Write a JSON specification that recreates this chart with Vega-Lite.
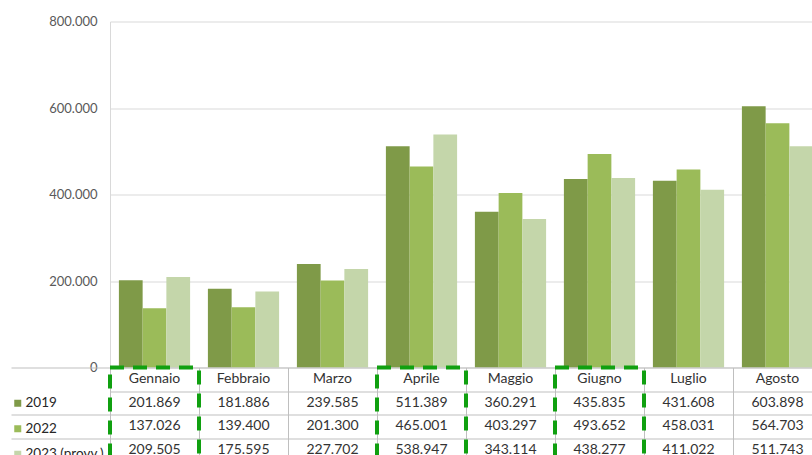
{
  "$schema": "https://vega.github.io/schema/vega-lite/v6.json",
  "padding": {"left": 10, "top": 15.5, "right": 0, "bottom": 0},
  "bounds": "flush",
  "spacing": 0,
  "config": {
    "font": "Lato",
    "locale": {"number": {"decimal": ",", "thousands": ".", "grouping": [3], "currency": ["", " €"]}},
    "view": {"stroke": null},
    "concat": {"spacing": 0}
  },
  "datasets": {
    "valori": [
      {"mese": "Gennaio", "serie": "2019", "valore": 201869},
      {"mese": "Gennaio", "serie": "2022", "valore": 137026},
      {"mese": "Gennaio", "serie": "2023 (provv.)", "valore": 209505},
      {"mese": "Febbraio", "serie": "2019", "valore": 181886},
      {"mese": "Febbraio", "serie": "2022", "valore": 139400},
      {"mese": "Febbraio", "serie": "2023 (provv.)", "valore": 175595},
      {"mese": "Marzo", "serie": "2019", "valore": 239585},
      {"mese": "Marzo", "serie": "2022", "valore": 201300},
      {"mese": "Marzo", "serie": "2023 (provv.)", "valore": 227702},
      {"mese": "Aprile", "serie": "2019", "valore": 511389},
      {"mese": "Aprile", "serie": "2022", "valore": 465001},
      {"mese": "Aprile", "serie": "2023 (provv.)", "valore": 538947},
      {"mese": "Maggio", "serie": "2019", "valore": 360291},
      {"mese": "Maggio", "serie": "2022", "valore": 403297},
      {"mese": "Maggio", "serie": "2023 (provv.)", "valore": 343114},
      {"mese": "Giugno", "serie": "2019", "valore": 435835},
      {"mese": "Giugno", "serie": "2022", "valore": 493652},
      {"mese": "Giugno", "serie": "2023 (provv.)", "valore": 438277},
      {"mese": "Luglio", "serie": "2019", "valore": 431608},
      {"mese": "Luglio", "serie": "2022", "valore": 458031},
      {"mese": "Luglio", "serie": "2023 (provv.)", "valore": 411022},
      {"mese": "Agosto", "serie": "2019", "valore": 603898},
      {"mese": "Agosto", "serie": "2022", "valore": 564703},
      {"mese": "Agosto", "serie": "2023 (provv.)", "valore": 511743}
    ],
    "mesi": [
      {"mese": "Gennaio"}, {"mese": "Febbraio"}, {"mese": "Marzo"}, {"mese": "Aprile"},
      {"mese": "Maggio"}, {"mese": "Giugno"}, {"mese": "Luglio"}, {"mese": "Agosto"}
    ],
    "evidenziati": [
      {"mese": "Gennaio"}, {"mese": "Aprile"}, {"mese": "Giugno"}
    ]
  },
  "vconcat": [
    {
      "width": 712,
      "height": 346,
      "data": {"name": "valori"},
      "mark": {"type": "bar"},
      "encoding": {
        "x": {
          "field": "mese", "type": "nominal",
          "scale": {"domain": ["Gennaio", "Febbraio", "Marzo", "Aprile", "Maggio", "Giugno", "Luglio", "Agosto"], "paddingInner": 0.2, "paddingOuter": 0.1},
          "axis": null
        },
        "xOffset": {
          "field": "serie", "type": "nominal",
          "scale": {"domain": ["2019", "2022", "2023 (provv.)"], "paddingInner": 0, "paddingOuter": 0}
        },
        "y": {
          "field": "valore", "type": "quantitative",
          "scale": {"domain": [0, 800000], "nice": false},
          "axis": {
            "title": null,
            "values": [0, 200000, 400000, 600000, 800000],
            "format": ",d",
            "grid": true,
            "gridColor": "#d9d9d9",
            "domain": true,
            "domainColor": "#d9d9d9",
            "ticks": false,
            "labelPadding": 13,
            "labelFontSize": 13,
            "labelColor": "#595959"
          }
        },
        "color": {
          "field": "serie", "type": "nominal",
          "scale": {"domain": ["2019", "2022", "2023 (provv.)"], "range": ["#7f9a48", "#9bbb59", "#c4d6aa"]},
          "legend": {
            "orient": "none",
            "legendX": -99,
            "legendY": 375,
            "title": null,
            "direction": "vertical",
            "symbolType": "square",
            "symbolSize": 49,
            "symbolStrokeWidth": 0,
            "labelFontSize": 13.5,
            "labelColor": "#262626",
            "labelOffset": 1,
            "rowPadding": 10.5,
            "padding": 0
          }
        }
      }
    },
    {
      "width": 712,
      "height": 94,
      "encoding": {
        "x": {
          "field": "mese", "type": "nominal",
          "scale": {"domain": ["Gennaio", "Febbraio", "Marzo", "Aprile", "Maggio", "Giugno", "Luglio", "Agosto"], "paddingInner": 0, "paddingOuter": 0},
          "axis": {
            "title": null, "orient": "top", "grid": true, "tickBand": "extent",
            "labels": false, "ticks": false, "domain": false, "gridColor": "#bfbfbf"
          }
        }
      },
      "layer": [
        {
          "data": {"name": "valori"},
          "mark": {"type": "text", "fontSize": 14, "color": "#333333"},
          "encoding": {
            "y": {
              "field": "serie", "type": "nominal",
              "scale": {"domain": ["Mese", "2019", "2022", "2023 (provv.)"], "paddingInner": 0, "paddingOuter": 0},
              "axis": {
                "title": null, "grid": true, "tickBand": "extent", "labels": false,
                "ticks": true, "tickSize": 99, "tickColor": "#bfbfbf",
                "tickOpacity": {"condition": {"test": "datum.value === 'Mese'", "value": 0}, "value": 1},
                "domain": false, "gridColor": "#bfbfbf"
              }
            },
            "text": {"field": "valore", "type": "quantitative", "format": ",d"}
          }
        },
        {
          "data": {"name": "mesi"},
          "mark": {"type": "text", "fontSize": 14, "color": "#333333"},
          "encoding": {
            "y": {"datum": "Mese", "type": "nominal"},
            "text": {"field": "mese", "type": "nominal"}
          }
        },
        {
          "data": {"name": "evidenziati"},
          "mark": {"type": "rect", "filled": false, "stroke": "#10a010", "strokeWidth": 4, "strokeDash": [14, 9]},
          "encoding": {}
        }
      ]
    }
  ]
}
